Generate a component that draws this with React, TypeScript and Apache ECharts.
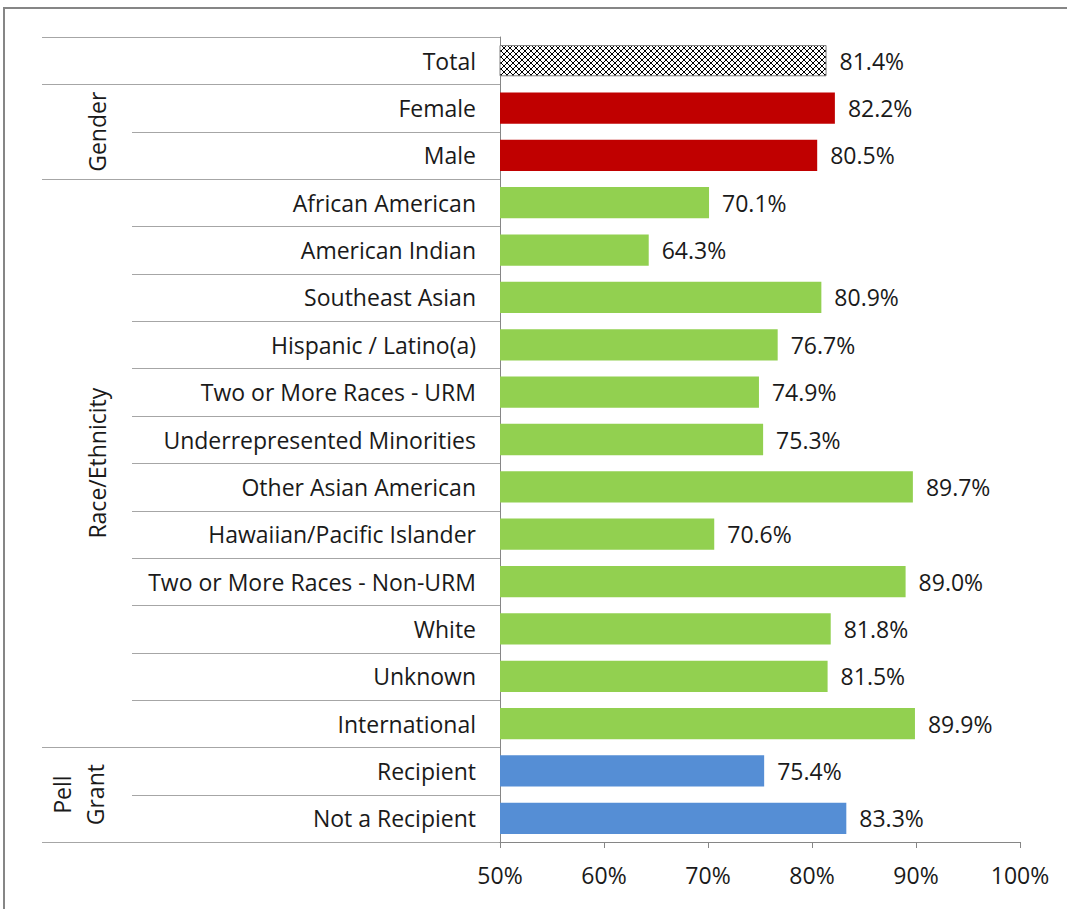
import React, { useEffect, useRef } from "react";
import * as echarts from "echarts";

const categories = [
  "Total",
  "Female",
  "Male",
  "African American",
  "American Indian",
  "Southeast Asian",
  "Hispanic / Latino(a)",
  "Two or More Races - URM",
  "Underrepresented Minorities",
  "Other Asian American",
  "Hawaiian/Pacific Islander",
  "Two or More Races - Non-URM",
  "White",
  "Unknown",
  "International",
  "Recipient",
  "Not a Recipient",
];

const values = [81.4, 82.2, 80.5, 70.1, 64.3, 80.9, 76.7, 74.9, 75.3, 89.7, 70.6, 89.0, 81.8, 81.5, 89.9, 75.4, 83.3];

// group per category: 0 total, 1 gender, 2 race, 3 pell
const groupOf = [0, 1, 1, 2, 2, 2, 2, 2, 2, 2, 2, 2, 2, 2, 2, 3, 3];

const groups = [
  { name: "Gender", lines: ["Gender"], start: 1, end: 2 },
  { name: "Race/Ethnicity", lines: ["Race/Ethnicity"], start: 3, end: 14 },
  { name: "Pell Grant", lines: ["Pell", "Grant"], start: 15, end: 16 },
];

const xTicks = [50, 60, 70, 80, 90, 100];

const groupColors = ["hatch", "#C00000", "#92D050", "#558ED5"];

const FONT = "'Open Sans', 'Noto Sans', sans-serif";
const FS = 23;

function makeHatch(): string {
  const c = document.createElement("canvas");
  c.width = 6;
  c.height = 6;
  const ctx = c.getContext("2d")!;
  ctx.fillStyle = "#ffffff";
  ctx.fillRect(0, 0, 6, 6);
  ctx.strokeStyle = "#000000";
  ctx.lineWidth = 1;
  ctx.beginPath();
  ctx.moveTo(0, 0);
  ctx.lineTo(6, 6);
  ctx.moveTo(6, 0);
  ctx.lineTo(0, 6);
  ctx.stroke();
  return c.toDataURL();
}

export default function App() {
  const ref = useRef<HTMLDivElement>(null);

  useEffect(() => {
    if (!ref.current) return;
    const chart = echarts.init(ref.current, undefined, { renderer: "svg" });
    const hatch = makeHatch();

    const gridTop = 37;
    const gridBottom = 67;
    const gridLeft = 500;
    const gridRight = 47;

    const data = values.map((v, i) => {
      const g = groupOf[i];
      const color = groupColors[g];
      return {
        value: v,
        itemStyle:
          color === "hatch"
            ? {
                color: { image: hatch, repeat: "repeat" } as any,
                borderColor: "#7f7f7f",
                borderWidth: 1,
              }
            : { color },
      };
    });

    chart.setOption({
      animation: false,
      backgroundColor: "#ffffff",
      textStyle: { fontFamily: FONT },
      grid: { left: gridLeft, right: gridRight, top: gridTop, bottom: gridBottom, containLabel: false },
      xAxis: {
        type: "value",
        min: xTicks[0],
        max: xTicks[xTicks.length - 1],
        interval: 10,
        axisLine: { show: true, lineStyle: { color: "#868686", width: 1 } },
        axisTick: { show: true, length: 6, lineStyle: { color: "#868686" } },
        splitLine: { show: false },
        axisLabel: {
          formatter: (v: number) => `${v}%`,
          fontSize: FS,
          color: "#1a1a1a",
          margin: 21,
          fontFamily: FONT,
        },
      },
      yAxis: {
        type: "category",
        data: categories,
        inverse: true,
        axisLine: { show: true, lineStyle: { color: "#868686", width: 1 } },
        axisTick: { show: false },
        axisLabel: { fontSize: FS, color: "#1a1a1a", margin: 24, fontFamily: FONT },
      },
      series: [
        {
          type: "bar",
          data,
          barCategoryGap: "34%",
          label: {
            show: true,
            position: "right",
            distance: 13,
            fontSize: FS,
            color: "#1a1a1a",
            fontFamily: FONT,
            formatter: (p: any) => `${Number(p.value).toFixed(1)}%`,
          },
        },
      ],
    });

    // Table lines and group labels, positioned from the category axis
    const c0 = chart.convertToPixel({ yAxisIndex: 0 }, 0) as number;
    const c1 = chart.convertToPixel({ yAxisIndex: 0 }, 1) as number;
    const rowH = c1 - c0;
    const boundary = (k: number) => c0 - rowH / 2 + k * rowH;
    const majorK = [0, 1, 3, 15, 17];
    const elements: any[] = [];
    for (let k = 0; k <= categories.length; k++) {
      const major = majorK.includes(k);
      const y = Math.round(boundary(k)) + 0.5;
      elements.push({
        type: "line",
        shape: { x1: major ? 42 : 132, y1: y, x2: gridLeft, y2: y },
        style: { stroke: "#a6a6a6", lineWidth: 1 },
        silent: true,
      });
    }
    groups.forEach((g) => {
      const yc = (boundary(g.start) + boundary(g.end + 1)) / 2;
      const n = g.lines.length;
      g.lines.forEach((line, j) => {
        const x = n === 1 ? 97 : 62 + j * 33;
        elements.push({
          type: "text",
          x,
          y: yc,
          rotation: Math.PI / 2,
          style: {
            text: line,
            fontSize: FS,
            fontFamily: FONT,
            fill: "#1a1a1a",
            align: "center",
            verticalAlign: "middle",
          },
          silent: true,
        });
      });
    });
    elements.push({
      type: "rect",
      shape: { x: 4, y: 8, width: 1120, height: 940 },
      style: { fill: "none", stroke: "#868686", lineWidth: 2 },
      silent: true,
      z: -1,
    });
    chart.setOption({ graphic: { elements } });

    return () => chart.dispose();
  }, []);

  return (
    <div
      ref={ref}
      style={{ position: "fixed", left: 0, top: 0, width: 1067, height: 909 }}
    />
  );
}
